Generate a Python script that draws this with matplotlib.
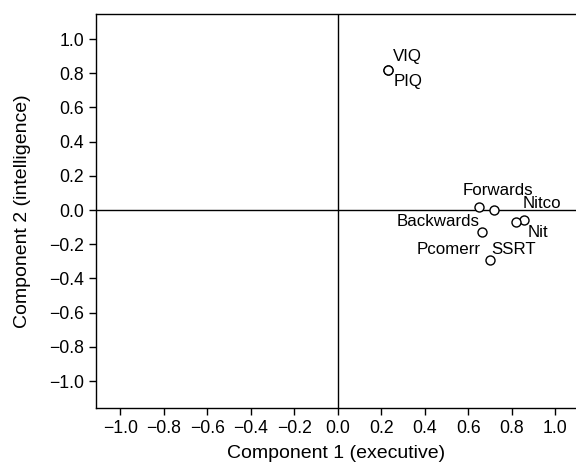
import matplotlib.pyplot as plt

plt.rcParams['font.family'] = ['Liberation Sans', 'DejaVu Sans']

# loadings on the two components
comp1 = [0.23, 0.23, 0.65, 0.72, 0.857, 0.82, 0.666, 0.70]
comp2 = [0.82, 0.82, 0.02, 0.0, -0.06, -0.07, -0.13, -0.29]

# label text, anchor position and alignment
labels = ["VIQ", "PIQ", "Forwards", "Nitco", "Backwards", "Nit", "Pcomerr", "SSRT"]
label_x = [0.256, 0.256, 0.576, 0.85, 0.654, 0.873, 0.659, 0.705]
label_y = [0.896, 0.751, 0.113, 0.04, -0.068, -0.133, -0.23, -0.23]
label_ha = ["left", "left", "left", "left", "right", "left", "right", "left"]

ticks = [-1.0, -0.8, -0.6, -0.4, -0.2, 0.0, 0.2, 0.4, 0.6, 0.8, 1.0]
tick_labels = [('%.1f' % t).replace('-', '\u2212') for t in ticks]

fig = plt.figure(figsize=(5.76, 4.69), dpi=100)
ax = fig.add_axes([0.1667, 0.130, 0.8333, 0.840])

ax.axhline(0, color='black', lw=1)
ax.axvline(0, color='black', lw=1)
ax.plot(comp1, comp2, 'o', mfc='white', mec='black', ms=6.5, mew=1)

for t, x, y, ha in zip(labels, label_x, label_y, label_ha):
    ax.text(x, y, t, ha=ha, va='center', fontsize=12.2)

ax.set_xlim(-1.111, 1.096)
ax.set_ylim(-1.158, 1.146)
ax.set_xticks(ticks)
ax.set_yticks(ticks)
ax.set_xticklabels(tick_labels)
ax.set_yticklabels(tick_labels)
ax.tick_params(labelsize=12.7, direction='out', length=5, width=1)
ax.spines['right'].set_visible(False)
for s in ['left', 'bottom', 'top']:
    ax.spines[s].set_linewidth(1)

ax.set_xlabel("Component 1 (executive)", fontsize=14, labelpad=6)
ax.set_ylabel("Component 2 (intelligence)", fontsize=14, labelpad=13)

fig.savefig("out.png", dpi=100)
